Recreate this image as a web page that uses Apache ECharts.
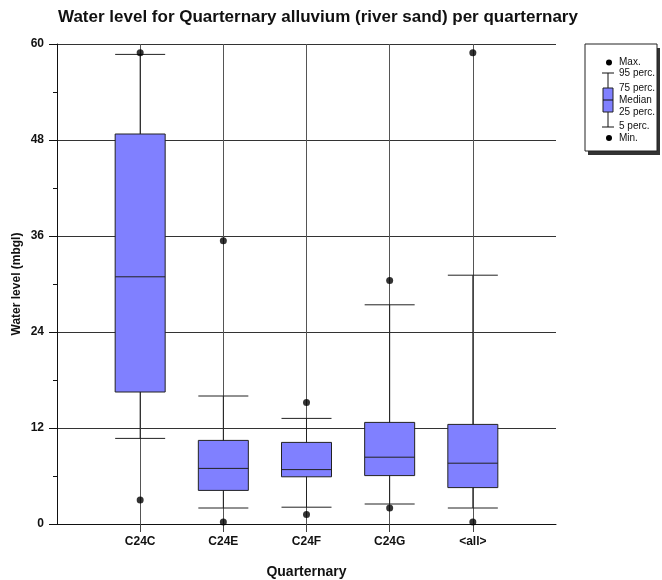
<!DOCTYPE html>
<html>
<head>
<meta charset="utf-8">
<script src="https://cdn.jsdelivr.net/npm/echarts@6/dist/echarts.min.js"></script>
<style>
  html, body { margin: 0; padding: 0; background: #fff; }
  #chart { width: 662px; height: 580px; }
</style>
</head>
<body>
<div id="chart"></div>
<script>
// Groups along the x axis
const categories = ['C24C', 'C24E', 'C24F', 'C24G', '<all>'];
// Water level statistics per group (mbgl)
const minValues = [3.0, 0.25, 1.2, 2.0, 0.25];
const p5Values = [10.7, 2.0, 2.1, 2.5, 2.0];
const p25Values = [16.5, 4.2, 5.9, 6.05, 4.55];
const medianValues = [30.9, 6.95, 6.8, 8.35, 7.6];
const p75Values = [48.75, 10.45, 10.2, 12.7, 12.45];
const p95Values = [58.7, 16.0, 13.2, 27.4, 31.1];
const maxValues = [58.9, 35.4, 15.2, 30.45, 58.9];
// Y axis ticks
const yTicks = [0, 12, 24, 36, 48, 60];

const FONT = 'Liberation Sans, Arial, sans-serif';
const positions = categories.map((_, i) => i + 1);

const boxData = categories.map((_, i) => [
  positions[i], p5Values[i], p25Values[i], medianValues[i], p75Values[i], p95Values[i]
]);
const dotData = [];
categories.forEach((_, i) => {
  dotData.push([positions[i], minValues[i]]);
  dotData.push([positions[i], maxValues[i]]);
});

const chart = echarts.init(document.getElementById('chart'), null, { renderer: 'canvas' });

// Legend panel explaining the box symbol
const lx = 585, ly = 44, lw = 72, lh = 107;
const cx = 608;
const legendText = [
  ['Max.', 62.5], ['95 perc.', 73], ['75 perc.', 88], ['Median', 100.5],
  ['25 perc.', 112.5], ['5 perc.', 126.5], ['Min.', 138]
];
const legendGraphics = [
  { type: 'rect', shape: { x: lx + 3, y: ly + 4, width: lw, height: lh }, style: { fill: '#333' }, z: 10 },
  { type: 'rect', shape: { x: lx, y: ly, width: lw, height: lh }, style: { fill: '#fff', stroke: '#222', lineWidth: 1 }, z: 11 },
  { type: 'circle', shape: { cx: cx + 1, cy: 62.5, r: 3 }, style: { fill: '#000' }, z: 12 },
  { type: 'line', shape: { x1: cx - 6, y1: 73, x2: cx + 6, y2: 73 }, style: { stroke: '#111', lineWidth: 1 }, z: 12 },
  { type: 'line', shape: { x1: cx, y1: 73, x2: cx, y2: 127 }, style: { stroke: '#111', lineWidth: 1 }, z: 12 },
  { type: 'line', shape: { x1: cx - 6, y1: 127, x2: cx + 6, y2: 127 }, style: { stroke: '#111', lineWidth: 1 }, z: 12 },
  { type: 'rect', shape: { x: cx - 5, y: 88, width: 10, height: 24 }, style: { fill: '#8080ff', stroke: '#222', lineWidth: 1 }, z: 13 },
  { type: 'line', shape: { x1: cx - 5, y1: 100, x2: cx + 5, y2: 100 }, style: { stroke: '#111', lineWidth: 1 }, z: 14 },
  { type: 'circle', shape: { cx: cx + 1, cy: 138, r: 3 }, style: { fill: '#000' }, z: 12 }
];
legendText.forEach(([t, y]) => {
  legendGraphics.push({
    type: 'text', x: 619, y: y, z: 12,
    style: { text: t, fill: '#111', font: '10px ' + FONT, verticalAlign: 'middle', align: 'left' }
  });
});

chart.setOption({
  animation: false,
  backgroundColor: '#fff',
  title: {
    text: 'Water level for Quarternary alluvium (river sand) per quarternary',
    left: 53,
    top: 4,
    textStyle: { fontFamily: FONT, fontSize: 17, fontWeight: 'bold', color: '#111' }
  },
  grid: { left: 57, right: 106, top: 44, bottom: 56, containLabel: false, outerBoundsMode: 'none' },
  xAxis: {
    type: 'value',
    min: 0,
    max: 6,
    interval: 1,
    name: 'Quarternary',
    nameLocation: 'middle',
    nameGap: 41,
    nameMoveOverlap: false,
    nameTextStyle: { fontFamily: FONT, fontSize: 14, fontWeight: 'bold', color: '#111' },
    axisLine: { show: true, onZero: false, lineStyle: { color: '#111', width: 1 } },
    axisTick: { show: true, customValues: positions, length: 8, lineStyle: { color: '#444' } },
    axisLabel: {
      customValues: positions,
      formatter: v => categories[v - 1] || '',
      margin: 12,
      fontFamily: FONT, fontSize: 12, fontWeight: 'bold', color: '#111'
    },
    splitLine: { show: true, lineStyle: { color: '#555', width: 1 } }
  },
  yAxis: {
    type: 'value',
    min: yTicks[0],
    max: yTicks[yTicks.length - 1],
    interval: 12,
    name: 'Water level (mbgl)',
    nameLocation: 'middle',
    nameGap: 34,
    nameMoveOverlap: false,
    nameTextStyle: { fontFamily: FONT, fontSize: 12, fontWeight: 'bold', color: '#111' },
    axisLine: { show: true, lineStyle: { color: '#111', width: 1 } },
    axisTick: { show: true, length: 8, lineStyle: { color: '#111' } },
    minorTick: { show: true, splitNumber: 2, length: 4, lineStyle: { color: '#111' } },
    axisLabel: { margin: 13, fontFamily: FONT, fontSize: 12, fontWeight: 'bold', color: '#111' },
    splitLine: { show: true, lineStyle: { color: '#333', width: 1 } }
  },
  series: [
    {
      type: 'boxplot',
      data: boxData,
      encode: { x: 0, y: [1, 2, 3, 4, 5] },
      boxWidth: [50, 50],
      itemStyle: { color: '#8080ff', borderColor: '#222', borderWidth: 1 },
      z: 3
    },
    {
      type: 'scatter',
      data: dotData,
      symbol: 'circle',
      symbolSize: 7,
      itemStyle: { color: '#000' },
      z: 4
    }
  ],
  graphic: legendGraphics
});
</script>
</body>
</html>
